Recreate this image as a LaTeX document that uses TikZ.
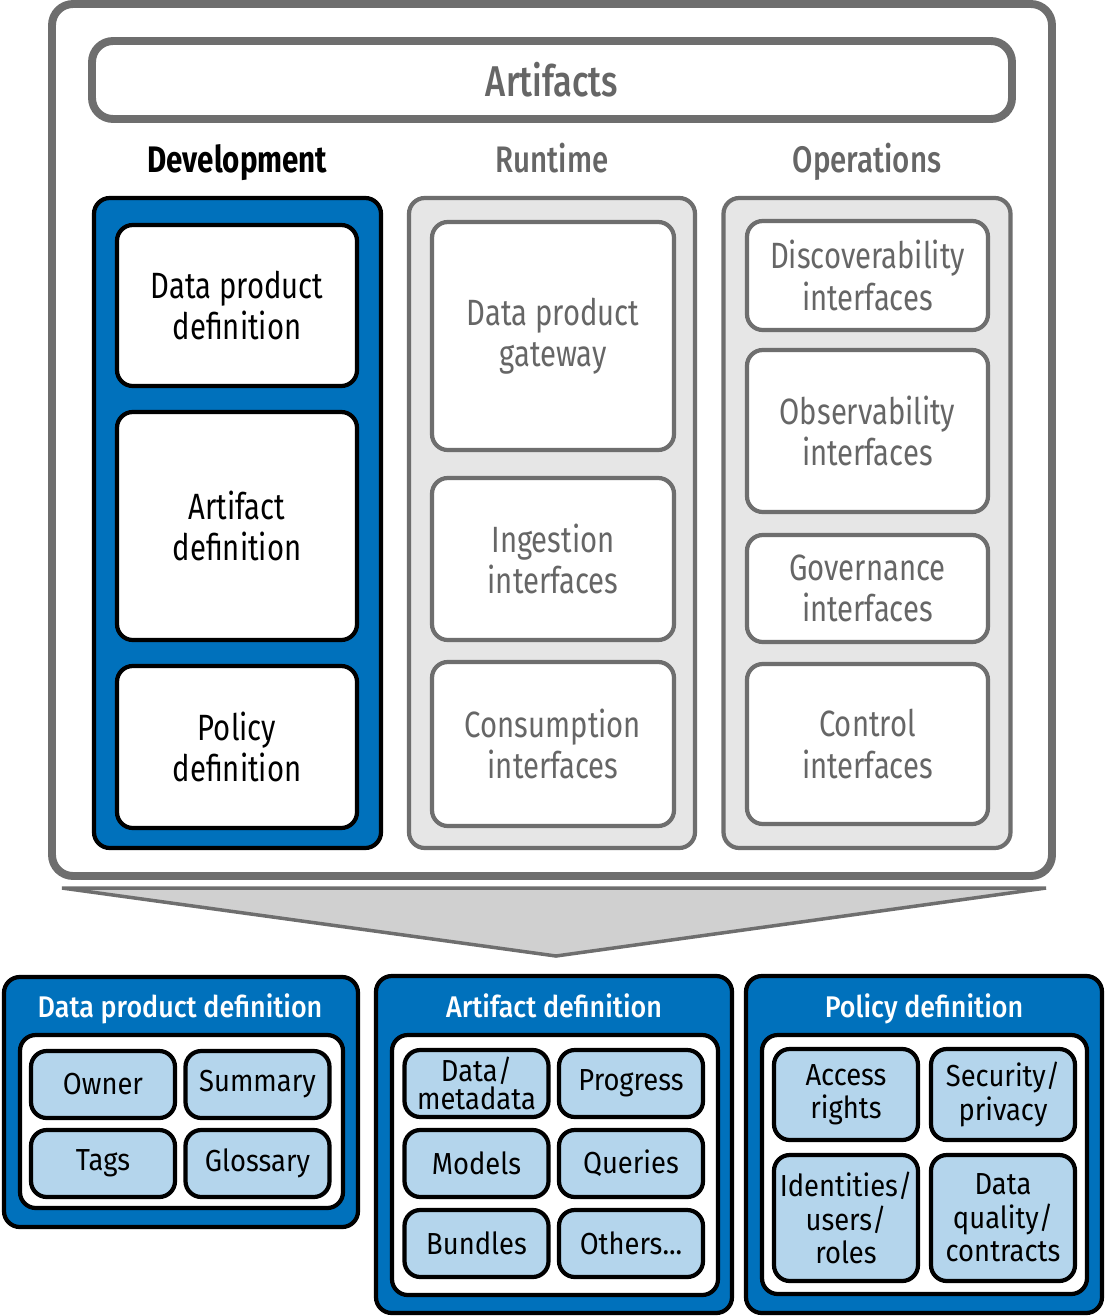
\documentclass[tikz,border=0pt]{standalone}
\usepackage{fontspec}
\setmainfont{Fira Sans}[FakeStretch=0.8]
\newfontfamily\medfont{Fira Sans Medium}[FakeStretch=0.8]
\newfontfamily\smallfont{Fira Sans}[FakeStretch=0.9]
\newfontfamily\smallmed{Fira Sans Medium}[FakeStretch=0.9]
\usepackage{tikz}
\usetikzlibrary{calc, positioning}
\definecolor{mainBlue}{RGB}{0,113,188}
\definecolor{lightBlue}{RGB}{180,213,236}
\definecolor{lineGray}{RGB}{110,110,110}
\definecolor{textGray}{RGB}{102,102,102}
\definecolor{colGray}{RGB}{230,230,230}
\definecolor{arrowGray}{RGB}{208,208,208}
\newcommand{\boxfont}{\fontsize{20.8}{23.5}\selectfont}
\newcommand{\itemfont}{\smallfont\fontsize{17.3}{19}\selectfont}

\begin{document}
\begin{tikzpicture}[
    frame/.style={draw=lineGray, line width=4.5pt, rounded corners=12pt, fill=white, inner sep=0pt},
    devcol/.style={draw=black, line width=2.4pt, fill=mainBlue, rounded corners=9pt, inner sep=0pt},
    graycol/.style={draw=lineGray, line width=2.4pt, fill=colGray, rounded corners=9pt, inner sep=0pt},
    devbox/.style={draw=black, line width=2.4pt, fill=white, rounded corners=9pt, align=center, font=\boxfont, inner sep=0pt},
    graybox/.style={draw=lineGray, line width=2.4pt, fill=white, rounded corners=9pt, align=center, font=\boxfont, text=textGray, inner sep=0pt},
    heading/.style={font=\medfont\fontsize{21}{25}\selectfont, text=textGray, anchor=base},
    panel/.style={draw=black, line width=2.4pt, fill=mainBlue, rounded corners=9pt, inner sep=0pt},
    panelin/.style={draw=black, line width=2.4pt, fill=white, rounded corners=9pt, inner sep=0pt},
    paneltitle/.style={font=\smallmed\fontsize{17}{19}\selectfont, text=white, anchor=base},
    item/.style={draw=black, line width=2.4pt, fill=lightBlue, rounded corners=9pt, align=center, font=\itemfont, minimum width=2.88cm, inner sep=0pt}
]
    \useasboundingbox (0,0) rectangle (22.1,-26.32);

    % Top: artifacts frame
    \node[frame, minimum width=20cm, minimum height=17.44cm] (outer) at (11.04,-8.8) {};
    \node[frame, minimum width=18.4cm, minimum height=1.56cm, text=textGray, font=\medfont\fontsize{24.5}{28}\selectfont] (artifacts) at (11.04,-1.6) {Artifacts};

    \node[heading, text=black, font=\bfseries\fontsize{21}{25}\selectfont] (hdev) at (4.75,-3.44) {Development};
    \node[heading] (hrun) at (11.04,-3.44) {Runtime};
    \node[heading] (hops) at (17.34,-3.44) {Operations};

    % Development column
    \node[devcol, minimum width=5.74cm, minimum height=13cm] (devcol) at (4.75,-10.46) {};
    \node[devbox, minimum width=4.8cm, minimum height=3.22cm] (dpdef) at (4.74,-6.11) {Data product\\definition};
    \node[devbox, minimum width=4.8cm, minimum height=4.56cm] (artdef) at (4.74,-10.52) {Artifact\\definition};
    \node[devbox, minimum width=4.8cm, minimum height=3.24cm] (poldef) at (4.74,-14.94) {Policy\\definition};

    % Runtime column
    \node[graycol, minimum width=5.72cm, minimum height=13cm] (runcol) at (11.04,-10.46) {};
    \node[graybox, minimum width=4.84cm, minimum height=4.56cm] (gateway) at (11.06,-6.72) {Data product\\gateway};
    \node[graybox, minimum width=4.84cm, minimum height=3.24cm] (ingest) at (11.06,-11.18) {Ingestion\\interfaces};
    \node[graybox, minimum width=4.84cm, minimum height=3.28cm] (consume) at (11.06,-14.88) {Consumption\\interfaces};

    % Operations column
    \node[graycol, minimum width=5.74cm, minimum height=13cm] (opscol) at (17.34,-10.46) {};
    \node[graybox, minimum width=4.82cm, minimum height=2.18cm] (discover) at (17.35,-5.51) {Discoverability\\interfaces};
    \node[graybox, minimum width=4.82cm, minimum height=3.24cm] (observe) at (17.35,-8.62) {Observability\\interfaces};
    \node[graybox, minimum width=4.82cm, minimum height=2.14cm] (govern) at (17.35,-11.77) {Governance\\interfaces};
    \node[graybox, minimum width=4.82cm, minimum height=3.2cm] (control) at (17.35,-14.88) {Control\\interfaces};

    % Chevron pointing down
    \coordinate (chevL) at (1.24,-17.76);
    \coordinate (chevR) at (20.92,-17.76);
    \coordinate (chevT) at (11.12,-19.12);
    \draw[draw=lineGray, fill=arrowGray, line width=2pt] (chevL) -- (chevR) -- (chevT) -- cycle;

    % Bottom: data product definition
    \node[panel, minimum width=7.08cm, minimum height=5cm] (pdp) at (3.62,-22.04) {};
    \node[paneltitle] (pdptitle) at (3.6,-20.34) {Data product definition};
    \node[panelin, minimum width=6.46cm, minimum height=3.46cm] (pdpin) at (3.63,-22.43) {};
    \node[item, minimum height=1.34cm] (owner) at (2.06,-21.69) {Owner};
    \node[item, minimum height=1.34cm] (summary) at (5.15,-21.69) {Summary};
    \node[item, minimum height=1.34cm] (tags) at (2.06,-23.27) {Tags};
    \node[item, minimum height=1.34cm] (glossary) at (5.15,-23.27) {Glossary};

    % Bottom: artifact definition
    \node[panel, minimum width=7.12cm, minimum height=6.74cm] (part) at (11.08,-22.89) {};
    \node[paneltitle] (parttitle) at (11.08,-20.34) {Artifact definition};
    \node[panelin, minimum width=6.52cm, minimum height=5.2cm] (partin) at (11.1,-23.3) {};
    \node[item, minimum height=1.34cm] (meta) at (9.53,-21.67) {Data/\\[-3pt]metadata};
    \node[item, minimum height=1.34cm] (progress) at (12.62,-21.67) {Progress};
    \node[item, minimum height=1.34cm] (models) at (9.53,-23.27) {Models};
    \node[item, minimum height=1.34cm] (queries) at (12.62,-23.27) {Queries};
    \node[item, minimum height=1.34cm] (bundles) at (9.53,-24.87) {Bundles};
    \node[item, minimum height=1.34cm] (others) at (12.62,-24.87) {Others...};

    % Bottom: policy definition
    \node[panel, minimum width=7.12cm, minimum height=6.74cm] (ppol) at (18.48,-22.89) {};
    \node[paneltitle] (ppoltitle) at (18.48,-20.34) {Policy definition};
    \node[panelin, minimum width=6.5cm, minimum height=5.18cm] (ppolin) at (18.49,-23.29) {};
    \node[item, minimum height=1.82cm] (access) at (16.92,-21.89) {Access\\rights};
    \node[item, minimum height=1.82cm] (security) at (20.06,-21.89) {Security/\\privacy};
    \node[item, minimum height=2.52cm] (identity) at (16.92,-24.36) {Identities/\\users/\\roles};
    \node[item, minimum height=2.52cm] (quality) at (20.06,-24.36) {Data\\quality/\\contracts};
\end{tikzpicture}
\end{document}
